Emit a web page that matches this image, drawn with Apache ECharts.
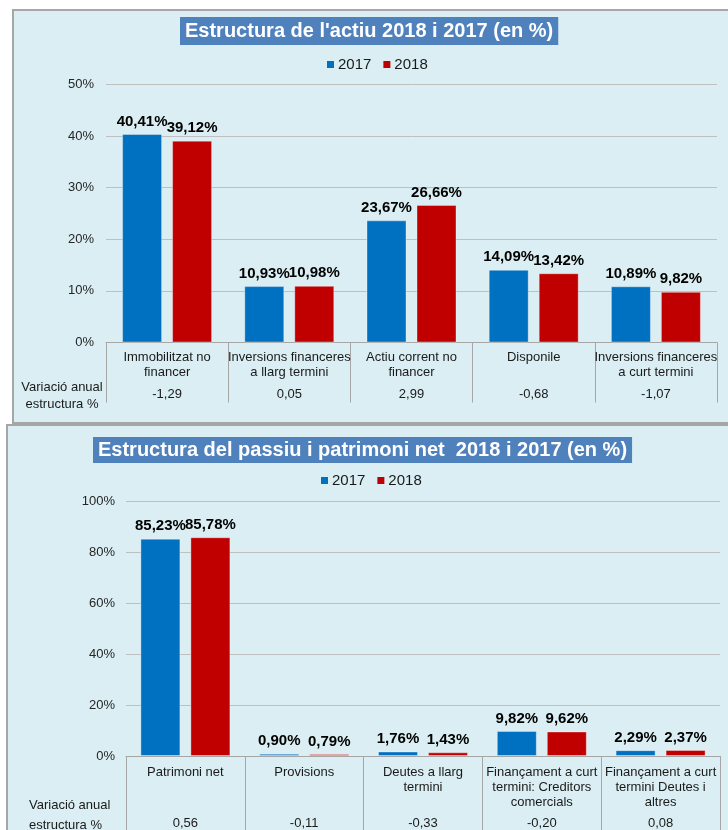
<!DOCTYPE html>
<html><head><meta charset="utf-8">
<script src="https://cdn.jsdelivr.net/npm/echarts@6/dist/echarts.min.js"></script>
<style>
html,body{margin:0;padding:0;width:728px;height:830px;overflow:hidden;background:#fff;}
.panel{position:absolute;background:#daeef3;border:2px solid #a6a6a6;box-sizing:border-box;}
#p1{left:12px;top:9px;width:740px;height:415px;}
#p2{left:6px;top:424px;width:740px;height:430px;}
#chart{position:absolute;left:0;top:0;width:728px;height:830px;}
</style></head><body>
<div class="panel" id="p1"></div><div class="panel" id="p2"></div>
<div id="chart"></div>
<script>
const years = ['2017', '2018'];
const topTitle = "Estructura de l'actiu 2018 i 2017 (en %)";
const topCategories = ['Immobilitzat no\nfinancer', 'Inversions financeres\na llarg termini', 'Actiu corrent no\nfinancer', 'Disponile', 'Inversions financeres\na curt termini'];
const top2017 = [40.41, 10.93, 23.67, 14.09, 10.89];
const top2018 = [39.12, 10.98, 26.66, 13.42, 9.82];
const topVariation = [-1.29, 0.05, 2.99, -0.68, -1.07];
const topAxisMax = 50, topAxisStep = 10;

const bottomTitle = 'Estructura del passiu i patrimoni net  2018 i 2017 (en %)';
const bottomCategories = ['Patrimoni net', 'Provisions', 'Deutes a llarg\ntermini', 'Finançament a curt\ntermini: Creditors\ncomercials', 'Finançament a curt\ntermini Deutes i\naltres'];
const bottom2017 = [85.23, 0.90, 1.76, 9.82, 2.29];
const bottom2018 = [85.78, 0.79, 1.43, 9.62, 2.37];
const bottomVariation = [0.56, -0.11, -0.33, -0.20, 0.08];
const bottomAxisMax = 100, bottomAxisStep = 20;

const variationLines = ['Variació anual', 'estructura %'];

const NARROW = "'Liberation Sans Narrow','Arial Narrow','Liberation Sans',Arial,sans-serif";
const REG = "'Liberation Sans',Arial,sans-serif";
const BLUE = '#0070c0', RED = '#c00000';
const fmt = v => v.toFixed(2).replace('.', ',');

function catFormatter(cats, vals, nLines) {
  return function (value) {
    const i = cats.indexOf(value);
    const lines = value.split('\n');
    while (lines.length < nLines) lines.push(' ');
    return lines.join('\n') + '\n{v|' + fmt(vals[i]) + '}';
  };
}

function xAxisCfg(gridIndex, cats, vals, nLines, tickLen, margin, vlh) {
  return {
    type: 'category', gridIndex: gridIndex, data: cats,
    axisLine: { show: true, lineStyle: { color: '#a6a6a6', width: 1 } },
    axisTick: { show: true, length: tickLen, alignWithLabel: false, lineStyle: { color: '#a6a6a6', width: 1 } },
    axisLabel: {
      interval: 0, margin: margin, color: '#1a1a1a', fontFamily: NARROW, fontSize: 13, lineHeight: 15,
      formatter: catFormatter(cats, vals, nLines),
      rich: { v: { fontFamily: NARROW, fontSize: 13, lineHeight: vlh, color: '#1a1a1a' } }
    }
  };
}

function yAxisCfg(gridIndex, max, step, margin) {
  return {
    type: 'value', gridIndex: gridIndex, min: 0, max: max, interval: step,
    axisLine: { show: false }, axisTick: { show: false },
    axisLabel: { formatter: '{value}%', color: '#262626', fontFamily: REG, fontSize: 13, margin: margin },
    splitLine: { lineStyle: { color: '#bfbfbf', width: 1 } }
  };
}

function barSeries(name, data, color, idx) {
  return {
    type: 'bar', name: name, data: data, xAxisIndex: idx, yAxisIndex: idx,
    barWidth: 40, barGap: '25%',
    itemStyle: { color: color, borderColor: 'rgba(255,255,255,0.35)', borderWidth: 1 },
    label: {
      show: true, position: 'top', distance: 5, color: '#000', fontFamily: REG, fontWeight: 'bold', fontSize: 15,
      formatter: p => fmt(p.value) + '%'
    }
  };
}

const chart = echarts.init(document.getElementById('chart'), null, { renderer: 'canvas' });
chart.setOption({
  backgroundColor: 'transparent',
  animation: false,
  title: [
    { text: topTitle, left: 180, top: 17, backgroundColor: '#4f81bd', padding: [3, 5, 3, 5],
      textStyle: { color: '#fff', fontFamily: NARROW, fontWeight: 'bold', fontSize: 20, lineHeight: 22 } },
    { text: bottomTitle, left: 93, top: 437, backgroundColor: '#4f81bd', padding: [3, 5, 3, 5],
      textStyle: { color: '#fff', fontFamily: NARROW, fontWeight: 'bold', fontSize: 20, lineHeight: 20 } }
  ],
  legend: [
    { data: years, left: 327, top: 57, padding: 0, itemWidth: 7, itemHeight: 7, itemGap: 12, itemStyle: { borderWidth: 0 }, icon: 'rect',
      textStyle: { fontFamily: NARROW, fontSize: 15, color: '#1a1a1a', padding: [0, 0, 0, -1] } },
    { data: years, left: 321, top: 473, padding: 0, itemWidth: 7, itemHeight: 7, itemGap: 12, itemStyle: { borderWidth: 0 }, icon: 'rect',
      textStyle: { fontFamily: NARROW, fontSize: 15, color: '#1a1a1a', padding: [0, 0, 0, -1] } }
  ],
  grid: [
    { left: 106, top: 84.5, width: 611, height: 258, outerBoundsMode: 'none', containLabel: false },
    { left: 126, top: 501, width: 594, height: 255, outerBoundsMode: 'none', containLabel: false }
  ],
  xAxis: [
    xAxisCfg(0, topCategories, topVariation, 2, 60, 7.5, 29),
    xAxisCfg(1, bottomCategories, bottomVariation, 3, 90, 8.5, 27)
  ],
  yAxis: [
    yAxisCfg(0, topAxisMax, topAxisStep, 12),
    yAxisCfg(1, bottomAxisMax, bottomAxisStep, 11)
  ],
  graphic: [
    { type: 'text', x: 62, y: 379, style: { text: variationLines.join('\n'), fill: '#1a1a1a', font: '13px ' + NARROW, lineHeight: 17, align: 'center', verticalAlign: 'top' } },
    { type: 'text', x: 29, y: 795, style: { text: variationLines.join('\n'), fill: '#1a1a1a', font: '13px ' + NARROW, lineHeight: 20, align: 'left', verticalAlign: 'top' } }
  ],
  series: [
    barSeries(years[0], top2017, BLUE, 0),
    barSeries(years[1], top2018, RED, 0),
    barSeries(years[0], bottom2017, BLUE, 1),
    barSeries(years[1], bottom2018, RED, 1)
  ]
});
</script>
</body></html>
